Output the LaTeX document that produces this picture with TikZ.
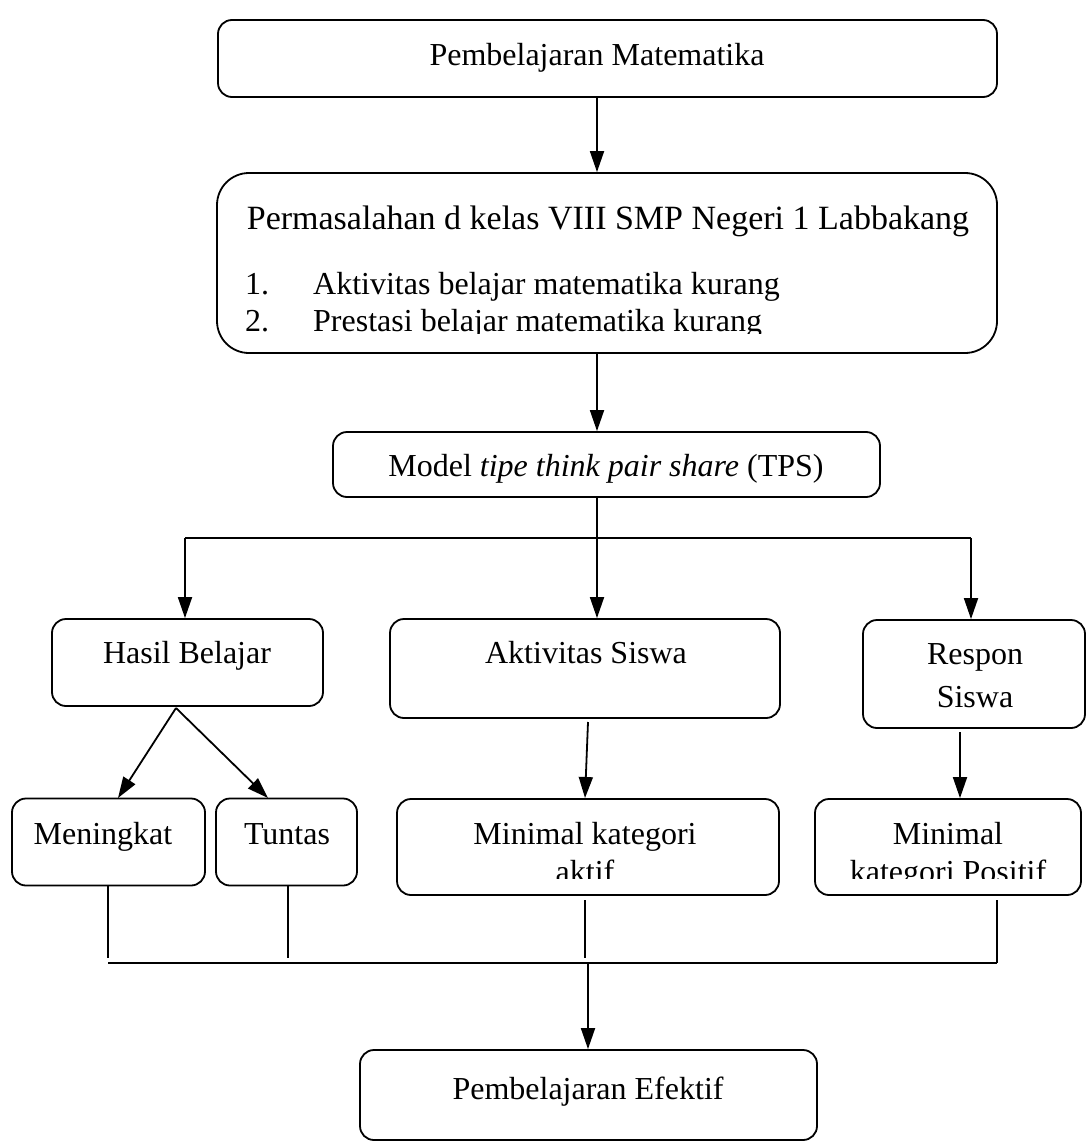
\documentclass[tikz,border=0pt]{standalone}
\usepackage{fontspec}
\setmainfont{Liberation Serif}
\usetikzlibrary{arrows.meta,calc}
\begin{document}
\begin{tikzpicture}[x=1pt,y=-1pt,
  box/.style={draw,line width=1.8pt,rounded corners=14pt,inner sep=0pt},
  txt/.style={inner sep=0pt,anchor=base,font=\fontsize{32}{37}\selectfont},
  arr/.style={line width=1.8pt,-{Triangle[length=21pt,width=14pt]}},
  ln/.style={line width=1.6pt}]
\useasboundingbox (0,0) rectangle (1087,1142);
% boxes
\node[box,minimum width=779pt,minimum height=77pt] (b1) at (607.5,58.5) {};
\node[box,rounded corners=32pt,minimum width=780pt,minimum height=180pt] (b2) at (607,263) {};
\node[box,minimum width=547pt,minimum height=65pt] (tps) at (606.5,464.5) {};
\node[box,minimum width=271pt,minimum height=87pt] (hasil) at (187.5,662.5) {};
\node[box,minimum width=390pt,minimum height=99pt] (akt) at (585,668.5) {};
\node[box,minimum width=222pt,minimum height=108pt] (resp) at (974,674) {};
\node[box,minimum width=193pt,minimum height=87pt] (men) at (108.5,842) {};
\node[box,minimum width=141pt,minimum height=87pt] (tun) at (286.5,842) {};
\node[box,minimum width=382pt,minimum height=96pt] (mka) at (588,847) {};
\node[box,minimum width=266pt,minimum height=96pt] (mkp) at (948,847) {};
\node[box,minimum width=457pt,minimum height=90pt] (ef) at (588.5,1095) {};
% texts
\node[txt] (t1) at (597,66) {Pembelajaran Matematika};
\node[txt,font=\fontsize{34}{39}\selectfont] (t2) at (608,229) {Permasalahan d kelas VIII SMP Negeri 1 Labbakang};
\node[txt,anchor=base west] (n1) at (245,294) {1.};
\node[txt,anchor=base west] (i1) at (313,294) {Aktivitas belajar matematika kurang};
\begin{scope}
\clip (217,173) rectangle (997,333);
\node[txt,anchor=base west] (n2) at (245,331) {2.};
\node[txt,anchor=base west] (i2) at (313,331) {Prestasi belajar matematika kurang};
\end{scope}
\node[txt] (t3) at (606,476) {Model \textit{tipe think pair share} (TPS)};
\node[txt] (t4) at (187,663) {Hasil Belajar};
\node[txt] (t5) at (586,663) {Aktivitas Siswa};
\node[txt] (t6) at (975,664) {Respon};
\node[txt] (t7) at (975,707) {Siswa};
\node[txt] (t8) at (103,844) {Meningkat};
\node[txt] (t9) at (287,844) {Tuntas};
\node[txt] (t10) at (585,844) {Minimal kategori};
\node[txt] (t12) at (948,844) {Minimal};
\begin{scope}
\clip (380,800) rectangle (1087,878);
\node[txt] (t11) at (585,882) {aktif};
\node[txt] (t13) at (948,882) {kategori Positif};
\end{scope}
\node[txt] (t14) at (588,1099) {Pembelajaran Efektif};
% connectors
\coordinate (c1) at (597,97);
\draw[arr] (c1) -- (c1 |- b2.north);
\coordinate (c2) at (597,353);
\draw[arr] (c2) -- (c2 |- tps.north);
\coordinate (c3) at (597,497);
\coordinate (hl) at (185,538);
\coordinate (hr) at (971,538);
\draw[ln] (hl) -- (hr);
\draw[arr] (c3) -- (c3 |- akt.north);
\draw[arr] (hl) -- (hl |- hasil.north);
\draw[arr] (hr) -- (hr |- resp.north);
\coordinate (hs) at (176,708);
\draw[arr] (hs) -- (118,798);
\draw[arr] (hs) -- (268,798);
\coordinate (as) at (588,722);
\draw[arr] (as) -- (585,798);
\coordinate (rs) at (960,732);
\draw[arr] (rs) -- (rs |- mkp.north);
\coordinate (jl) at (108,963);
\coordinate (jr) at (997,963);
\draw[ln] (108,886) -- (108,958);
\draw[ln] (288,886) -- (288,958);
\draw[ln] (585,900) -- (585,958);
\draw[ln] (997,900) -- (jr);
\draw[ln] (jl) -- (jr);
\coordinate (jm) at (588,963);
\draw[arr] (jm) -- (jm |- ef.north);
\end{tikzpicture}
\end{document}
